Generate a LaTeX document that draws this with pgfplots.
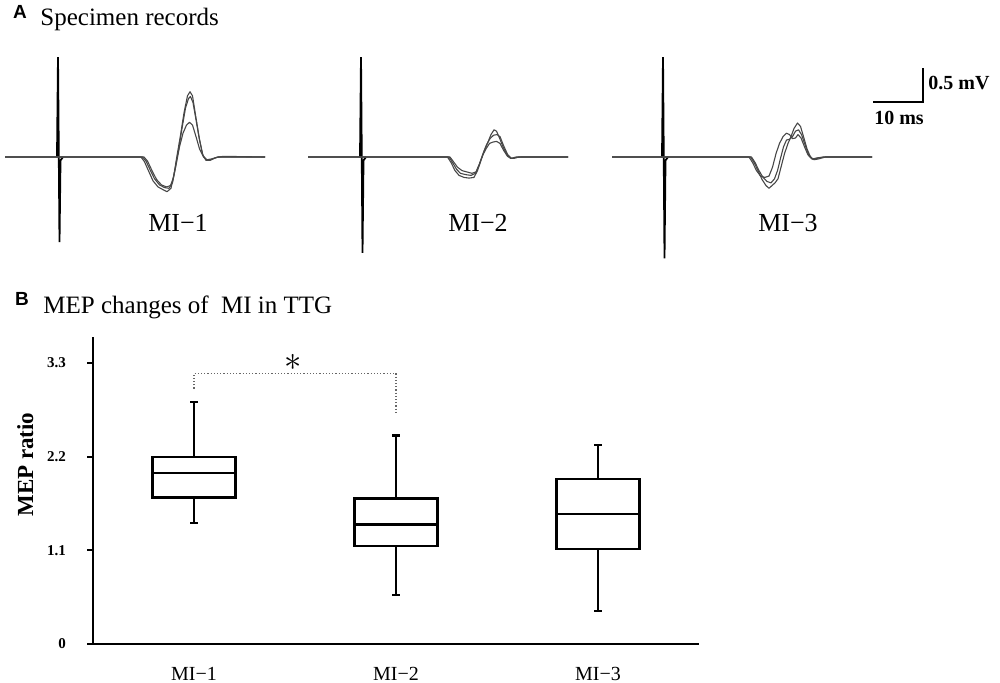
\documentclass[border=0pt]{standalone}
\usepackage{fontspec}
\setmainfont{Liberation Serif}
\newfontfamily\panelfont{Liberation Sans}
\usepackage{pgfplots}
\pgfplotsset{compat=1.18}
\usepgfplotslibrary{statistics}

% one pixel of the 1000x682 reference = 0.5pt
\pgfplotsset{
  rec/.style={hide axis, clip=false, x=2.5pt, y=34pt,
    xmin=-11, xmax=44, ymin=-1.6, ymax=1.6, anchor=south west},
  tr/.style={no markers, line width=0.55pt, black!72, line join=round},
  art/.style={no markers, line width=0.9pt, black},
}
\tikzset{reclabel/.style={font=\fontsize{13}{14}\selectfont}}

\begin{document}
\begin{tikzpicture}

% ---------------- A: specimen records ----------------
\node[font=\panelfont\bfseries\fontsize{9.5}{9.5}\selectfont] at (10pt,-6pt) {A};
\node[anchor=base west, inner sep=0, font=\fontsize{12.5}{14}\selectfont] at (20pt,-12.5pt) {Specimen records};

% MI-1
\begin{axis}[rec, at={(1.5pt,-132.9pt)}]
\addplot[art] coordinates {(-0.2,0) (0,1.47) (0.3,-1.25) (0.5,-0.05) (1.0,0)};
\addplot[tr] coordinates {(-10.6,0) (16.6,0) (17.3,-0.07) (18.2,-0.22) (19.0,-0.35) (20.0,-0.44) (21.0,-0.48) (21.8,-0.51) (22.6,-0.46) (23.2,-0.25) (23.8,0.02) (24.5,0.32) (25.2,0.65) (25.9,0.9) (26.4,0.96) (26.9,0.9) (27.5,0.62) (28.2,0.3) (28.9,0.04) (29.6,-0.05) (30.4,-0.05) (31.5,-0.01) (33,0.01) (41.4,0)};
\addplot[tr] coordinates {(-10.6,0) (16.9,0) (17.6,-0.06) (18.5,-0.2) (19.3,-0.32) (20.3,-0.41) (21.3,-0.45) (22.2,-0.46) (22.9,-0.38) (23.5,-0.15) (24.1,0.1) (24.8,0.42) (25.5,0.72) (26.1,0.86) (26.5,0.89) (27.0,0.8) (27.6,0.55) (28.3,0.25) (29.0,0.02) (29.7,-0.04) (30.5,-0.04) (32,0) (41.4,0)};
\addplot[tr] coordinates {(-10.6,0) (17.2,0) (17.9,-0.06) (18.8,-0.2) (19.7,-0.33) (20.7,-0.41) (21.7,-0.44) (22.5,-0.42) (23.1,-0.3) (23.7,-0.08) (24.3,0.15) (25.0,0.35) (25.7,0.47) (26.3,0.51) (26.9,0.47) (27.6,0.3) (28.3,0.12) (29.1,0.0) (29.8,-0.04) (30.6,-0.03) (32,0) (41.4,0)};
\node[reclabel] at (axis cs:24,-0.97) {MI−1};
\end{axis}

% MI-2
\begin{axis}[rec, at={(153pt,-132.9pt)}]
\addplot[art] coordinates {(-0.2,0) (0,1.47) (0.3,-1.41) (0.5,-0.05) (1.0,0)};
\addplot[tr] coordinates {(-10.6,0) (17.3,0) (18.0,-0.08) (18.8,-0.2) (19.6,-0.27) (20.6,-0.3) (21.6,-0.31) (22.6,-0.3) (23.3,-0.2) (24.0,-0.05) (24.7,0.1) (25.4,0.22) (26.0,0.33) (26.6,0.4) (27.1,0.38) (27.7,0.28) (28.4,0.15) (29.2,0.03) (29.9,-0.02) (30.6,-0.02) (31.5,0) (41.4,0)};
\addplot[tr] coordinates {(-10.6,0) (17.6,0) (18.3,-0.08) (19.1,-0.18) (19.9,-0.24) (21.0,-0.26) (22.0,-0.27) (22.9,-0.24) (23.6,-0.12) (24.3,0.02) (25.0,0.12) (25.7,0.2) (26.4,0.22) (27.1,0.23) (27.8,0.2) (28.5,0.1) (29.3,0.01) (30.0,-0.02) (30.8,-0.01) (32,0) (41.4,0)};
\addplot[tr] coordinates {(-10.6,0) (17.8,0) (18.5,-0.07) (19.3,-0.15) (20.2,-0.2) (21.2,-0.22) (22.2,-0.24) (23.0,-0.22) (23.7,-0.1) (24.4,0.05) (25.1,0.18) (25.8,0.27) (26.5,0.32) (27.2,0.33) (27.8,0.3) (28.5,0.17) (29.3,0.04) (30.1,-0.02) (31,0) (41.4,0)};
\node[reclabel] at (axis cs:23.4,-0.97) {MI−2};
\end{axis}

% MI-3 (with scale bar)
\begin{axis}[rec, at={(304pt,-132.9pt)}]
\addplot[art] coordinates {(-0.2,0) (0,1.47) (0.3,-1.49) (0.5,-0.05) (1.0,0)};
\addplot[tr] coordinates {(-10.2,0) (17.2,0) (17.9,-0.08) (18.7,-0.2) (19.5,-0.28) (20.4,-0.3) (21.2,-0.28) (21.9,-0.15) (22.6,0.05) (23.3,0.2) (24.0,0.3) (24.7,0.35) (25.3,0.33) (25.9,0.27) (26.5,0.28) (27.0,0.33) (27.6,0.28) (28.3,0.15) (29.0,0.03) (29.8,-0.03) (30.8,-0.02) (32,0) (41.8,0)};
\addplot[tr] coordinates {(-10.2,0) (17.5,0) (18.2,-0.08) (19.0,-0.2) (19.8,-0.33) (20.6,-0.42) (21.2,-0.46) (21.8,-0.42) (22.4,-0.38) (23.0,-0.32) (23.6,-0.15) (24.3,0.05) (25.0,0.2) (25.6,0.3) (26.2,0.42) (26.9,0.5) (27.5,0.45) (28.1,0.3) (28.8,0.12) (29.5,0.0) (30.2,-0.04) (31,-0.03) (32.5,0) (41.8,0)};
\addplot[tr] coordinates {(-10.2,0) (17.7,0) (18.4,-0.08) (19.2,-0.2) (20.0,-0.3) (20.8,-0.36) (21.6,-0.38) (22.3,-0.32) (22.9,-0.2) (23.5,-0.02) (24.1,0.15) (24.7,0.25) (25.3,0.26) (25.9,0.3) (26.5,0.38) (27.1,0.4) (27.7,0.33) (28.4,0.18) (29.1,0.04) (29.9,-0.03) (31,-0.01) (32.5,0) (41.8,0)};
\node[reclabel] at (axis cs:25,-0.97) {MI−3};
% scale bar: 10 ms x 0.5 mV
\draw[line width=1pt] (axis cs:42,0.81) -- (axis cs:52,0.81) -- (axis cs:52,1.31);
\node[anchor=west, inner sep=1pt, font=\bfseries\fontsize{10}{12}\selectfont] at (axis cs:52.6,1.09) {0.5 mV};
\node[font=\bfseries\fontsize{10}{12}\selectfont] at (axis cs:47.2,0.57) {10 ms};
\end{axis}

% ---------------- B: MEP changes ----------------
\node[font=\panelfont\bfseries\fontsize{9.5}{9.5}\selectfont] at (11pt,-149.5pt) {B};
\node[anchor=base west, inner sep=0, font=\fontsize{12.5}{14}\selectfont] at (21.5pt,-156.5pt) {MEP changes of\ \ MI in TTG};

\begin{axis}[
    at={(46.5pt,-322pt)}, anchor=south west,
    scale only axis, width=303pt, height=153.3pt,
    xmin=0.5, xmax=3.5, ymin=0, ymax=3.6,
    axis lines=left,
    axis line style={-, line width=1.3pt, black},
    xtick={1,2,3}, xticklabels={MI−1,MI−2,MI−3},
    ytick={0,1.1,2.2,3.3}, yticklabels={0,1.1,2.2,3.3},
    tick align=outside, major tick length=3pt,
    ytick style={line width=1pt, black},
    xtick style={draw=none},
    xticklabel style={font=\fontsize{10}{12}\selectfont, yshift=-5pt},
    yticklabel style={font=\bfseries\fontsize{7.5}{9}\selectfont, xshift=-7pt},
    ylabel={MEP ratio},
    ylabel style={font=\bfseries\fontsize{11.5}{12}\selectfont,
      at={(ticklabel cs:0.585)}},
    clip=false,
    boxplot/draw direction=y,
]
% y axis line, also as a plotted path
\addplot[black, line width=1.3pt, no markers] coordinates {(0.5,0) (0.5,3.6)};
\addplot[black, solid, line width=1.2pt, boxplot prepared={draw position=1,
    lower whisker=1.42, lower quartile=1.72, median=2.01,
    upper quartile=2.195, upper whisker=2.84,
    box extend=0.41, whisker extend=0.035}] coordinates {};
\addplot[black, solid, line width=1.2pt, boxplot prepared={draw position=2,
    lower whisker=0.575, lower quartile=1.154, median=1.405,
    upper quartile=1.71, upper whisker=2.45,
    box extend=0.41, whisker extend=0.035}] coordinates {};
\addplot[black, solid, line width=1.2pt, boxplot prepared={draw position=3,
    lower whisker=0.39, lower quartile=1.115, median=1.53,
    upper quartile=1.94, upper whisker=2.34,
    box extend=0.41, whisker extend=0.035}] coordinates {};
% significance bracket
\draw[densely dotted, black!60, line width=0.6pt]
  (axis cs:1,3.0) -- (axis cs:1,3.18) -- (axis cs:2,3.18) -- (axis cs:2,2.69);
\node[font=\fontsize{16}{16}\selectfont] at (axis cs:1.49,3.31) {$\ast$};
\end{axis}

\pgfresetboundingbox
\useasboundingbox (0,0) rectangle (500pt,-341pt);
\end{tikzpicture}
\end{document}
